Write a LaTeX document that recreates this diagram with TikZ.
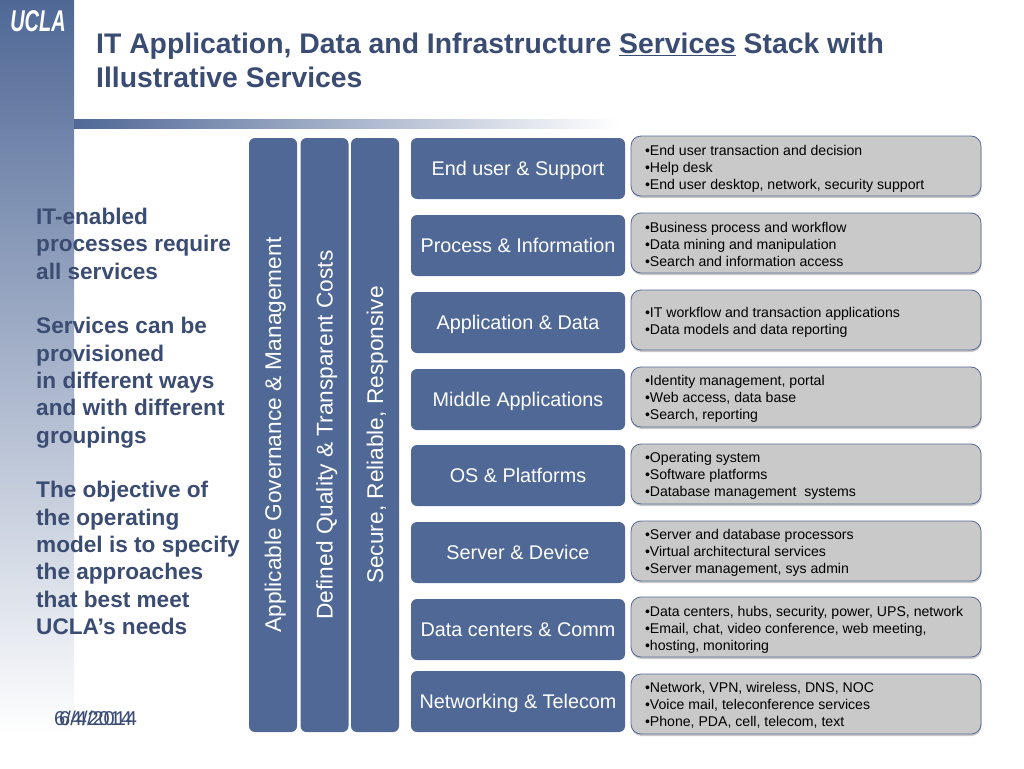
\documentclass[tikz,border=0pt]{standalone}
\usepackage{fontspec}
\setmainfont{Liberation Sans}
\usetikzlibrary{shadows,fadings}
\definecolor{band}{HTML}{4F6896}
\definecolor{titleblue}{HTML}{3B4C73}
\definecolor{boxblue}{HTML}{4F6896}
\definecolor{greybox}{HTML}{C9C9C9}
\definecolor{greyedge}{HTML}{55699A}
\tikzset{
  bluebox/.style={draw=none,fill=boxblue,rounded corners=6pt,text=white,font=\fontsize{19.8}{22}\selectfont,inner sep=0pt,anchor=center},
  layerbox/.style={bluebox,minimum width=214pt,minimum height=61pt,text height=14.2pt,text depth=0pt},
  pillar/.style={bluebox,minimum width=594pt,minimum height=48pt,rotate=90,font=\fontsize{22.7}{24}\selectfont,text height=16pt,text depth=0pt},
  detail/.style={draw=greyedge,line width=0.8pt,fill=greybox,rounded corners=10pt,minimum width=350pt,minimum height=60pt,inner sep=0pt,
    text=black,font=\fontsize{14.1}{17}\selectfont,
    drop shadow={shadow xshift=0.5pt,shadow yshift=-2pt,opacity=0.3,fill=black!70}},
  sidetext/.style={text=titleblue,font=\bfseries\fontsize{22.6}{27.33}\selectfont,align=left,anchor=north west,inner sep=0pt},
  titletext/.style={text=titleblue,font=\bfseries\fontsize{28.35}{34}\selectfont,align=left,anchor=north west,inner sep=0pt},
  datetext/.style={text=titleblue,font=\fontsize{20}{22}\selectfont,anchor=west,inner sep=0pt}
}
\newcommand{\detailtext}[2]{\parbox[c]{322pt}{\raggedright\vspace*{#1}#2}}
\begin{document}
\begin{tikzpicture}[x=1pt,y=-1pt]
\useasboundingbox (0,0) rectangle (1024,768);
\shade[top color=band,bottom color=white,draw=none] (0,0) rectangle (74,735);
\shade[left color=band,right color=white,draw=none] (74,119) rectangle (620,128);
\node[text=white,font=\bfseries\fontsize{24}{24}\selectfont,inner sep=0pt,xscale=0.83,yscale=1.25] (logo) at (38,21) {\textit{UCLA}};
\node[titletext] (title) at (96,33) {IT Application, Data and Infrastructure \underline{Services} Stack with\\Illustrative Services};
\node[sidetext] (side) at (36,208) {IT-enabled\\processes require\\all services\\[27.33pt]Services can be\\provisioned\\in different ways\\and with different\\groupings\\[27.33pt]The objective of\\the operating\\model is to specify\\the approaches\\that best meet\\UCLA’s needs};
\node[datetext] (dateA) at (54,718) {6/4/2014};
\node[datetext] (dateB) at (59,718) {6/4/2014};
\node[pillar] (p1) at (273,435) {Applicable Governance \& Management};
\node[pillar] (p2) at (324.5,435) {Defined Quality \& Transparent Costs};
\node[pillar] (p3) at (375,435) {Secure, Reliable, Responsive};
\node[layerbox] (l1) at (518,168.5) {End user \& Support};
\node[layerbox] (l2) at (518,245.5) {Process \& Information};
\node[layerbox] (l3) at (518,322.5) {Application \& Data};
\node[layerbox] (l4) at (518,399.5) {Middle Applications};
\node[layerbox] (l5) at (518,475.5) {OS \& Platforms};
\node[layerbox] (l6) at (518,552.5) {Server \& Device};
\node[layerbox] (l7) at (518,629.5) {Data centers \& Comm};
\node[layerbox] (l8) at (518,701.5) {Networking \& Telecom};
\node[detail] (d1) at (806,166) {\detailtext{6pt}{•End user transaction and decision\\•Help desk\\•End user desktop, network, security support}};
\node[detail] (d2) at (806,243) {\detailtext{2pt}{•Business process and workflow\\•Data mining and manipulation\\•Search and information access}};
\node[detail] (d3) at (806,320) {\detailtext{4pt}{•IT workflow and transaction applications\\•Data models and data reporting}};
\node[detail] (d4) at (806,397) {\detailtext{4pt}{•Identity management, portal\\•Web access, data base\\•Search, reporting}};
\node[detail] (d5) at (806,474) {\detailtext{4pt}{•Operating system\\•Software platforms\\•Database management~ systems}};
\node[detail] (d6) at (806,551) {\detailtext{4pt}{•Server and database processors\\•Virtual architectural services\\•Server management, sys admin}};
\node[detail] (d7) at (806,627) {\detailtext{6pt}{•Data centers, hubs, security, power, UPS, network\\•Email, chat, video conference, web meeting,\\•hosting, monitoring}};
\node[detail] (d8) at (806,704) {\detailtext{2pt}{•Network, VPN, wireless, DNS, NOC\\•Voice mail, teleconference services\\•Phone, PDA, cell, telecom, text}};
\end{tikzpicture}
\end{document}
